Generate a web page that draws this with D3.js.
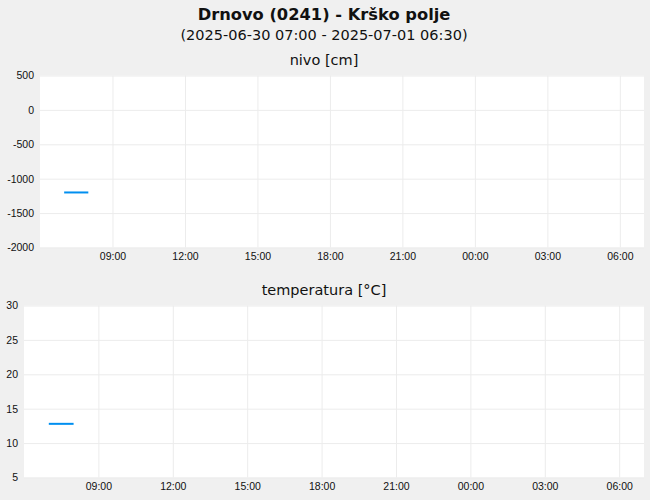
<!DOCTYPE html>
<html>
<head>
<meta charset="utf-8">
<script src="https://cdn.jsdelivr.net/npm/d3@7"></script>
<style>
  body { margin: 0; background: #f0f0f0; }
  svg { display: block; font-family: "DejaVu Sans", sans-serif; }
  .grid line { stroke: #ececec; stroke-width: 1; }
  .grid path { display: none; }
  .axis path { display: none; }
  .axis line { display: none; }
  .axis text { fill: #111; font-size: 10.5px; }
</style>
</head>
<body>
<script>
var title = "Drnovo (0241) - Krško polje";
var subtitle = "(2025-06-30 07:00 - 2025-07-01 06:30)";

// meritve
var times = ["2025-06-30 07:00", "2025-06-30 08:00"];
var nivo = [-1200, -1200];
var temperatura = [12.8, 12.8];

var xRange = ["2025-06-30 06:00", "2025-07-01 07:00"];
var nivoTicks = [500, 0, -500, -1000, -1500, -2000];
var tempTicks = [30, 25, 20, 15, 10, 5];

var width = 650, height = 500;
var parse = d3.timeParse("%Y-%m-%d %H:%M");

var svg = d3.select("body").append("svg")
    .attr("width", width)
    .attr("height", height);

svg.append("rect")
    .attr("width", width).attr("height", height)
    .attr("fill", "#f0f0f0");

svg.append("text")
    .attr("x", 324).attr("y", 20)
    .attr("text-anchor", "middle")
    .attr("font-size", "16.3px")
    .attr("font-weight", "bold")
    .attr("fill", "#111")
    .text(title);

svg.append("text")
    .attr("x", 324).attr("y", 40)
    .attr("text-anchor", "middle")
    .attr("font-size", "14.5px")
    .attr("fill", "#111")
    .text(subtitle);

function panel(opts) {
    var g = svg.append("g")
        .attr("transform", "translate(" + opts.left + "," + opts.top + ")");
    var w = 644 - opts.left, h = 172;

    var x = d3.scaleTime()
        .domain(xRange.map(parse))
        .range([0, w]);
    var y = d3.scaleLinear()
        .domain([opts.ticks[opts.ticks.length - 1], opts.ticks[0]])
        .range([h, 0]);

    g.append("rect")
        .attr("width", w).attr("height", h)
        .attr("fill", "#fff");

    var xTicks = x.ticks(d3.timeHour.every(3)).filter(function (d) {
        return d > x.domain()[0];
    });

    g.append("g").attr("class", "grid")
        .call(d3.axisBottom(x).tickValues(xTicks).tickSize(h).tickFormat(""));
    g.append("g").attr("class", "grid")
        .call(d3.axisLeft(y).tickValues(opts.ticks).tickSize(-w).tickFormat(""));

    g.append("g").attr("class", "axis")
        .attr("transform", "translate(0," + h + ")")
        .call(d3.axisBottom(x).tickValues(xTicks).tickSize(0).tickPadding(5)
            .tickFormat(d3.timeFormat("%H:%M")));

    g.append("g").attr("class", "axis")
        .call(d3.axisLeft(y).tickValues(opts.ticks).tickSize(0).tickPadding(6)
            .tickFormat(function (d) { return String(d); }));

    g.append("text")
        .attr("x", 324 - opts.left).attr("y", -11)
        .attr("text-anchor", "middle")
        .attr("font-size", "14.5px")
        .attr("fill", "#111")
        .text(opts.label);

    var pts = times.map(function (t, i) { return [parse(t), opts.values[i]]; });
    g.append("path")
        .datum(pts)
        .attr("fill", "none")
        .attr("stroke", "#008ff0")
        .attr("stroke-width", 2)
        .attr("d", d3.line()
            .x(function (d) { return x(d[0]); })
            .y(function (d) { return y(d[1]); }));
}

panel({left: 40, top: 75.5, ticks: nivoTicks, values: nivo, label: "nivo [cm]"});
panel({left: 24, top: 305.5, ticks: tempTicks, values: temperatura, label: "temperatura [°C]"});
</script>
</body>
</html>
